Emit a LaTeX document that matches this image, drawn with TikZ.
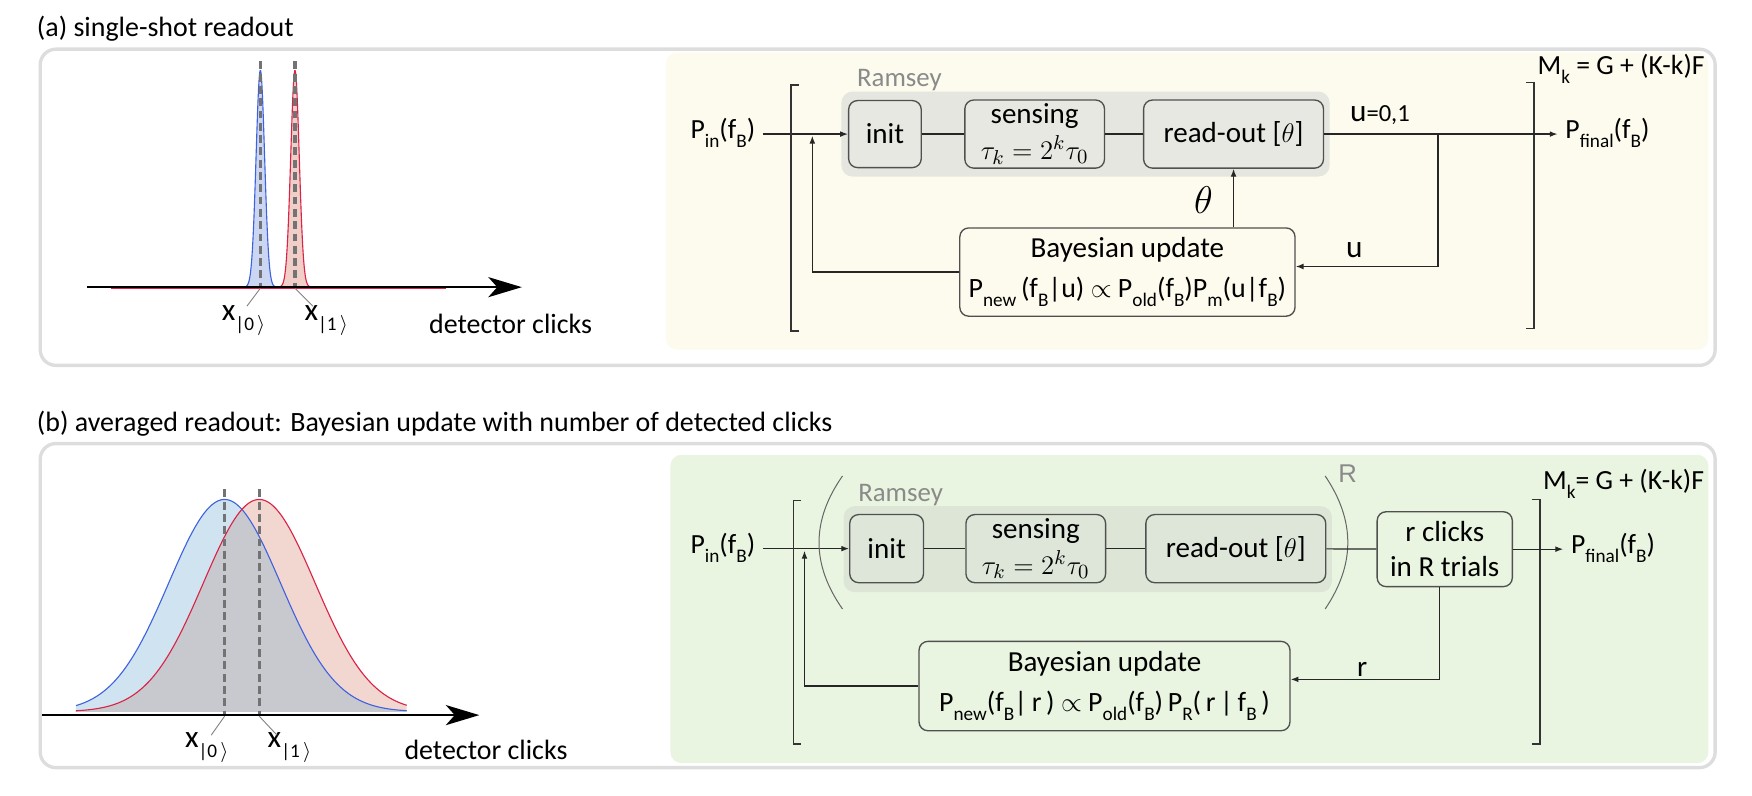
\documentclass[tikz,border=0pt]{standalone}
\usepackage{fontspec}
\setmainfont{Carlito}
\newfontfamily\arialish{Liberation Sans}
\usetikzlibrary{arrows.meta}

\definecolor{panelA}{HTML}{FDFBEE}
\definecolor{panelB}{HTML}{E9F5E0}
\definecolor{ramseyfillA}{HTML}{E6E6E0}
\definecolor{ramseyfillB}{HTML}{DCE5D6}
\definecolor{nodefillA}{HTML}{E8E8E3}
\definecolor{nodefillB}{HTML}{DEE6D9}
\definecolor{framegray}{HTML}{DDDDDD}
\definecolor{labelgray}{HTML}{8A8A8A}
\definecolor{boxline}{HTML}{505050}
\definecolor{curveblue}{HTML}{4062DF}
\definecolor{curvered}{HTML}{DA2346}
\definecolor{fillblueA}{HTML}{CAD6F2}
\definecolor{fillredA}{HTML}{F1CEC8}
\definecolor{fillblueB}{HTML}{CFE4F0}
\definecolor{fillredB}{HTML}{F2D6D0}
\definecolor{filloverlap}{HTML}{C8C9CF}

% lowered subscript as in the drawing
\newcommand{\lowsub}[1]{\raisebox{-0.32em}{\fontsize{8.6}{8.6}\selectfont #1}}
\newcommand{\rulesize}{\fontsize{12.5}{15}\selectfont}

\begin{document}
\begin{tikzpicture}[x=0.5pt,y=-0.5pt,
    every node/.style={font=\fontsize{13}{15.5}\selectfont},
    titletext/.style={anchor=west,font=\fontsize{12.5}{15}\selectfont},
    sidetext/.style={font=\fontsize{12.4}{15}\selectfont},
    blk/.style={draw=boxline,line width=0.6pt,rounded corners=4pt,align=center,inner sep=0pt},
    flow/.style={draw=black!85,line width=0.55pt,-{Latex[length=3.5pt,width=2.6pt]}},
    link/.style={draw=black!85,line width=0.55pt},
    brk/.style={draw=black!80,line width=0.7pt},
    paren/.style={draw=black!60,line width=0.45pt},
    panelframe/.style={draw=framegray,line width=1.5pt,rounded corners=7pt},
    clickaxis/.style={line width=0.8pt,-{Stealth[length=15pt,width=9pt,inset=4pt]}},
    statedash/.style={draw=black!55,line width=1.5pt,dash pattern=on 3.5pt off 2pt},
    leader/.style={draw=black!50,line width=0.4pt},
    ketlabel/.style={font=\fontsize{14}{16}\selectfont},
    grouplabel/.style={text=labelgray,font=\fontsize{12}{14}\selectfont}]
\useasboundingbox (0,0) rectangle (1568,712);

% (a) single-shot readout
\node[titletext] (titleA) at (26,26) {(a) single-shot readout};
\draw[panelframe] (36,44) rectangle (1535,327);
\fill[panelA,rounded corners=5pt] (596,47) rectangle (1529,313);

\fill[fillblueA] plot[domain=219:247,samples=80] (\x,{257-194*exp(-0.5*((\x-233)/3.8)^2)}) -- cycle;
\fill[fillredA] plot[domain=250:278,samples=80] (\x,{257-194*exp(-0.5*((\x-264)/3.8)^2)}) -- cycle;
\draw[curvered,line width=0.4pt] (99,258.5) -- (399,258.5);
\draw[curveblue,line width=0.5pt] plot[domain=219:247,samples=80] (\x,{257-194*exp(-0.5*((\x-233)/3.8)^2)});
\draw[curvered,line width=0.5pt] plot[domain=250:278,samples=80] (\x,{257-194*exp(-0.5*((\x-264)/3.8)^2)});
\draw[statedash] (233,55) -- (233,257);
\draw[statedash] (264,55) -- (264,257);
\coordinate (originA) at (78,257);
\coordinate (endA) at (467,257);
\draw[clickaxis] (originA) -- (endA);

\node[ketlabel] (zeroA) at (218,287) {x\lowsub{|0\,$\rangle$}};
\node[ketlabel] (oneA) at (292,287) {x\lowsub{|1\,$\rangle$}};
\coordinate (footzeroA) at (233,258);
\coordinate (footoneA) at (264,258);
\draw[leader] (footzeroA) -- (221,274);
\draw[leader] (footoneA) -- (280,274);
\node[titletext] (clicksA) at (377,290) {detector clicks};

\node[grouplabel] (ramseyA) at (805,72) {Ramsey};
\fill[ramseyfillA,rounded corners=5pt] (753,82) rectangle (1190,158);
\node[blk,fill=nodefillA,minimum width=32.5pt,minimum height=30pt] (initA) at (792,120) {init};
\node[blk,fill=nodefillA,minimum width=62.5pt,minimum height=30.5pt] (senseA) at (926,120) {sensing\\[0.6pt]$\tau_k=2^k\tau_0$};
\node[blk,fill=nodefillA,minimum width=80.5pt,minimum height=30.5pt] (readA) at (1104,120) {read-out [$\theta$]};
\draw[link] (initA) -- (senseA);
\draw[link] (senseA) -- (readA);

\node[sidetext] (pinA) at (647,119) {P\lowsub{in}(f\lowsub{B})};
\draw[flow] (pinA.east |- initA) -- (initA);
\draw[brk] (715,76) -- (708,76) -- (708,296) -- (715,296);
\draw[brk] (1366,74) -- (1373,74) -- (1373,294) -- (1366,294);

\node[sidetext,anchor=west] (pfinA) at (1394,119) {P\lowsub{final}(f\lowsub{B})};
\draw[flow] (readA) -- (readA -| pfinA.west);
\node (uvalA) at (1235,103) {\fontsize{14}{14}\selectfont u{\fontsize{11}{13}\selectfont =0,1}};
\node[sidetext,anchor=west] (costA) at (1369,62) {M\lowsub{k} = G + (K-k)F};

\node[blk,minimum width=150pt,minimum height=39.5pt] (bayesA) at (1009,243.5) {Bayesian update\\[2.2pt]{\rulesize P\lowsub{new}\,(f\lowsub{B}|u) $\propto$ P\lowsub{old}(f\lowsub{B})P\lowsub{m}(u|f\lowsub{B})}};
\node[font=\fontsize{16}{16}\selectfont] (thetaA) at (1077,179) {$\theta$};
\draw[flow] (bayesA.north -| readA) -- (readA.south);
\coordinate (splitA) at (1287,120);
\draw[flow] (splitA) |- ([yshift=2.5pt]bayesA.east);
\node (uA) at (1212,224) {\fontsize{14}{14}\selectfont u};
\coordinate (backA) at (727,121.5);
\draw[flow] (bayesA.west) -| (backA);

% (b) averaged readout
\node[titletext] (titleB) at (26,379) {(b) averaged readout: Bayesian update with number of detected clicks};
\draw[panelframe] (36,397) rectangle (1535,687);
\fill[panelB,rounded corners=5pt] (600,407) rectangle (1529,683);

\fill[fillblueB] plot[domain=68:364,samples=120] (\x,{637-190*exp(-0.5*((\x-201)/50)^2)}) -- (364,637) -- (68,637) -- cycle;
\fill[fillredB] plot[domain=68:364,samples=120] (\x,{637-190*exp(-0.5*((\x-232)/50)^2)}) -- (364,637) -- (68,637) -- cycle;
\fill[filloverlap] plot[domain=68:364,samples=120] (\x,{max(637-190*exp(-0.5*((\x-201)/50)^2),637-190*exp(-0.5*((\x-232)/50)^2))}) -- (364,637) -- (68,637) -- cycle;
\draw[curveblue,line width=0.5pt] plot[domain=68:364,samples=120] (\x,{637-190*exp(-0.5*((\x-201)/50)^2)});
\draw[curvered,line width=0.5pt] plot[domain=68:364,samples=120] (\x,{637-190*exp(-0.5*((\x-232)/50)^2)});
\draw[statedash] (201,438) -- (201,640);
\draw[statedash] (232,438) -- (232,640);
\coordinate (originB) at (38,640);
\coordinate (endB) at (429,640);
\draw[clickaxis] (originB) -- (endB);

\node[ketlabel] (zeroB) at (185,669) {x\lowsub{|0\,$\rangle$}};
\node[ketlabel] (oneB) at (259,669) {x\lowsub{|1\,$\rangle$}};
\coordinate (footzeroB) at (201,641);
\coordinate (footoneB) at (232,641);
\draw[leader] (footzeroB) -- (189,658);
\draw[leader] (footoneB) -- (248,658);
\node[titletext] (clicksB) at (355,671) {detector clicks};

\node[grouplabel] (ramseyB) at (806,443) {Ramsey};
\fill[ramseyfillB,rounded corners=5pt] (755,453) rectangle (1192,530);
\node[blk,fill=nodefillB,minimum width=33pt,minimum height=30.5pt] (initB) at (793.5,491) {init};
\node[blk,fill=nodefillB,minimum width=62.5pt,minimum height=30.5pt] (senseB) at (927,491) {sensing\\[0.6pt]$\tau_k=2^k\tau_0$};
\node[blk,fill=nodefillB,minimum width=80.5pt,minimum height=30.5pt] (readB) at (1106,491) {read-out [$\theta$]};
\draw[link] (initB) -- (senseB);
\draw[link] (senseB) -- (readB);

\node[sidetext] (pinB) at (647,490) {P\lowsub{in}(f\lowsub{B})};
\draw[flow] (pinB.east |- initB) -- (initB);
\draw[brk] (717,448) -- (710,448) -- (710,666) -- (717,666);
\draw[brk] (1371,447) -- (1378,447) -- (1378,666) -- (1371,666);
\draw[paren] (754,426) .. controls (726,466) and (726,505) .. (754,545);
\draw[paren] (1186,426) .. controls (1213,466) and (1213,505) .. (1186,545);
\node[text=labelgray,font=\arialish\fontsize{11.5}{13}\selectfont] (repsB) at (1206,424) {R};

\node[blk,minimum width=60.5pt,minimum height=33.5pt] (countB) at (1293,491.5) {r clicks\\in R trials};
\draw[link] (readB) -- (countB);
\node[sidetext,anchor=west] (pfinB) at (1399,490) {P\lowsub{final}(f\lowsub{B})};
\draw[flow] (countB) -- (countB -| pfinB.west);
\node[sidetext,anchor=west] (costB) at (1374,433) {M\lowsub{k}= G + (K-k)F};

\node[blk,minimum width=166pt,minimum height=40pt] (bayesB) at (988.5,614) {Bayesian update\\[2.2pt]{\rulesize P\lowsub{new}(f\lowsub{B}|\,r\,) $\propto$ P\lowsub{old}(f\lowsub{B})\,P\lowsub{R}(\,r\,|\,f\lowsub{B}\,)}};
\draw[flow] ([xshift=-2.5pt]countB.south) |- ([yshift=3pt]bayesB.east);
\node (rB) at (1219,599) {r};
\coordinate (backB) at (720,493);
\draw[flow] (bayesB.west) -| (backB);
\end{tikzpicture}
\end{document}
